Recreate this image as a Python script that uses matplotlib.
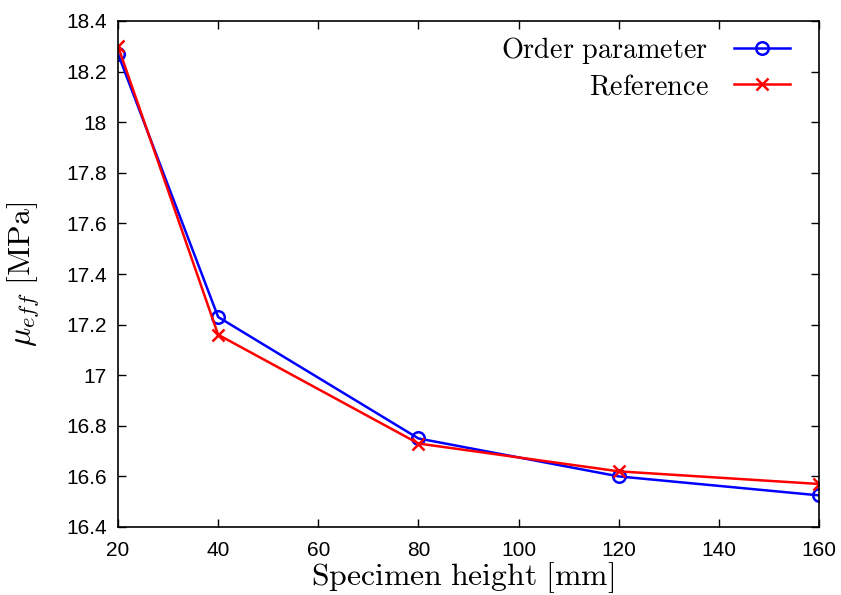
import matplotlib
matplotlib.use("Agg")
import matplotlib.pyplot as plt

# Effective shear modulus vs. specimen height
heights = [20, 40, 80, 120, 160]
order_parameter = [18.27, 17.23, 16.75, 16.60, 16.525]
reference = [18.30, 17.16, 16.73, 16.62, 16.57]

x_ticks = [20, 40, 60, 80, 100, 120, 140, 160]
y_ticks = [16.4, 16.6, 16.8, 17.0, 17.2, 17.4, 17.6, 17.8, 18.0, 18.2, 18.4]
y_tick_labels = ["16.4", "16.6", "16.8", "17", "17.2", "17.4", "17.6", "17.8", "18", "18.2", "18.4"]

plt.rcParams["mathtext.fontset"] = "cm"
plt.rcParams["font.family"] = "Liberation Sans"

fig = plt.figure(figsize=(8.41, 5.95), dpi=100)
ax = fig.add_axes([118 / 841, 1 - 527 / 595, (819 - 118) / 841, (527 - 21) / 595])

ax.plot(heights, order_parameter, color="#0000ff", lw=1.8, marker="o",
        markersize=9, markerfacecolor="none", markeredgewidth=1.8,
        label=r"$\mathrm{Order\ parameter}$")
ax.plot(heights, reference, color="#ff0000", lw=1.8, marker="x",
        markersize=9, markeredgewidth=1.8,
        label=r"$\mathrm{Reference}$")

ax.set_xlim(20, 160)
ax.set_ylim(16.4, 18.4)
ax.set_xticks(x_ticks)
ax.set_yticks(y_ticks)
ax.set_yticklabels(y_tick_labels)
ax.tick_params(direction="in", top=True, right=True, length=6, width=1,
               labelsize=15)
ax.tick_params(axis="x", pad=10)
ax.tick_params(axis="y", pad=8)
for s in ax.spines.values():
    s.set_linewidth(1.2)

ax.set_xlabel(r"$\mathrm{Specimen\ height\ [mm]}$", fontsize=22.8)
ax.xaxis.set_label_coords(0.492, -0.066)
ax.set_ylabel(r"$\mu_{eff}\ \mathrm{[MPa]}$", fontsize=23)
ax.yaxis.set_label_coords(-0.108, 0.5)

leg = ax.legend(loc="upper right", bbox_to_anchor=(0.983, 1.006),
                frameon=False, markerfirst=False,
                fontsize=20.3, handlelength=2.0, borderaxespad=0.2,
                labelspacing=0.3, borderpad=0.4, handletextpad=0.9)
for t in leg.get_texts():
    t.set_ha("right")
leg._legend_box.align = "right"

fig.savefig("out.png", dpi=100)
